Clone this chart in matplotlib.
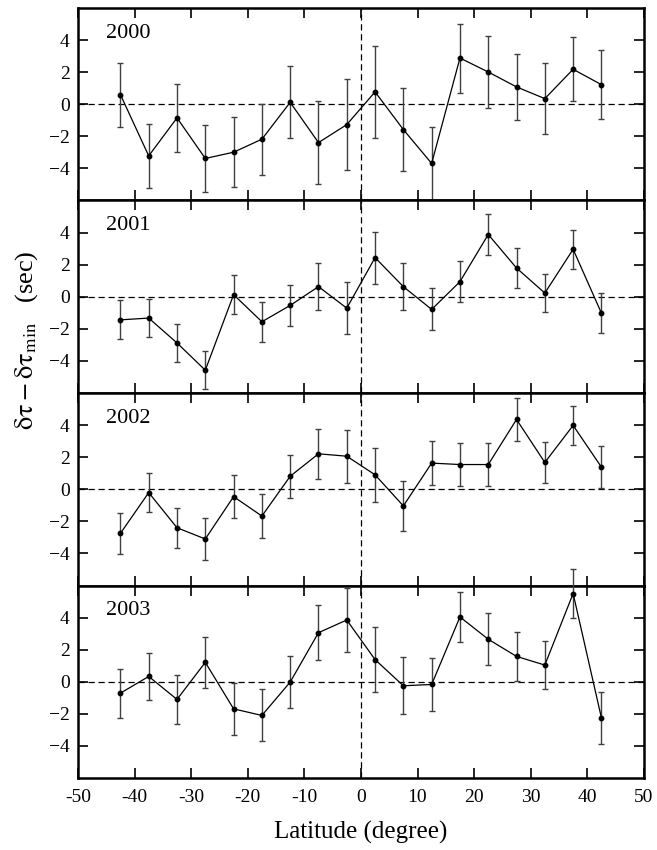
import matplotlib
matplotlib.use("Agg")
import matplotlib.pyplot as plt
import numpy as np

plt.rcParams['font.family'] = ['Liberation Serif', 'DejaVu Serif']
plt.rcParams['mathtext.fontset'] = 'stix'

latitude = [-42.5, -37.5, -32.5, -27.5, -22.5, -17.5, -12.5, -7.5, -2.5,
            2.5, 7.5, 12.5, 17.5, 22.5, 27.5, 32.5, 37.5, 42.5]

years = ["2000", "2001", "2002", "2003"]

val_2000 = [0.60, -3.22, -0.85, -3.38, -2.99, -2.18, 0.12, -2.39, -1.27,
            0.77, -1.58, -3.69, 2.88, 2.01, 1.08, 0.35, 2.18, 1.22]
err_2000 = [2.0, 2.0, 2.1, 2.1, 2.2, 2.2, 2.25, 2.57, 2.85,
            2.86, 2.6, 2.3, 2.15, 2.25, 2.07, 2.2, 2.0, 2.15]

val_2001 = [-1.44, -1.33, -2.88, -4.58, 0.13, -1.56, -0.54, 0.63, -0.71,
            2.44, 0.63, -0.79, 0.94, 3.88, 1.79, 0.23, 2.96, -1.02]
err_2001 = [1.22, 1.18, 1.17, 1.2, 1.23, 1.25, 1.3, 1.47, 1.64,
            1.62, 1.45, 1.31, 1.29, 1.25, 1.23, 1.17, 1.2, 1.25]

val_2002 = [-2.75, -0.21, -2.40, -3.10, -0.46, -1.67, 0.81, 2.21, 2.06,
            0.90, -1.04, 1.63, 1.54, 1.54, 4.35, 1.67, 3.98, 1.38]
err_2002 = [1.26, 1.22, 1.26, 1.31, 1.33, 1.38, 1.35, 1.54, 1.65,
            1.67, 1.57, 1.38, 1.35, 1.33, 1.32, 1.27, 1.23, 1.31]

val_2003 = [-0.71, 0.33, -1.10, 1.21, -1.69, -2.10, -0.02, 3.06, 3.85,
            1.38, -0.25, -0.17, 4.04, 2.65, 1.58, 1.04, 5.50, -2.25]
err_2003 = [1.53, 1.44, 1.52, 1.60, 1.62, 1.62, 1.64, 1.73, 1.98,
            2.02, 1.78, 1.67, 1.56, 1.62, 1.53, 1.49, 1.52, 1.60]

values = [val_2000, val_2001, val_2002, val_2003]
errors = [err_2000, err_2001, err_2002, err_2003]

x_ticks = [-50, -40, -30, -20, -10, 0, 10, 20, 30, 40, 50]
y_ticks = [-4, -2, 0, 2, 4]

fig = plt.figure(figsize=(6.57, 8.5), dpi=100)
gs = fig.add_gridspec(4, 1, left=0.1187, right=0.980, top=0.9906, bottom=0.0847, hspace=0)

axes = []
for i in range(4):
    ax = fig.add_subplot(gs[i])
    axes.append(ax)
    ax.axhline(0, color='black', lw=0.9, ls=(0, (5, 3)), zorder=1)
    ax.axvline(0, color='black', lw=0.9, ls=(0, (5, 3)), zorder=1)
    eb = ax.errorbar(latitude, values[i], yerr=errors[i], fmt='-o', color='black',
                     ecolor='#404040', elinewidth=1.0, capsize=2.5, capthick=1.0,
                     lw=0.9, ms=3.2, zorder=3)
    for artist in list(eb.lines[1]) + list(eb.lines[2]):
        artist.set_clip_on(False)
    eb.lines[0].set_clip_on(False)
    ax.set_xlim(-50, 50)
    ax.set_ylim(-6, 6)
    ax.set_xticks(x_ticks)
    ax.set_yticks(y_ticks)
    ax.tick_params(direction='in', top=True, right=True, length=7, width=1.2,
                   labelsize=14, pad=6)
    for s in ax.spines.values():
        s.set_linewidth(1.8)
    ax.text(0.05, 0.87, years[i], transform=ax.transAxes, fontsize=16,
            ha='left', va='center')
    if i < 3:
        ax.tick_params(labelbottom=False)
    else:
        ax.set_xticklabels([str(t) for t in x_ticks])
        ax.tick_params(axis='x', pad=8)

axes[-1].set_xlabel("Latitude (degree)", fontsize=18, labelpad=11)
fig.text(0.040, 0.60, r"$\mathrm{\delta\tau - \delta\tau_{min}}$   (sec)",
         rotation=90, fontsize=19, ha='center', va='center')

fig.savefig("out.png", dpi=100)
